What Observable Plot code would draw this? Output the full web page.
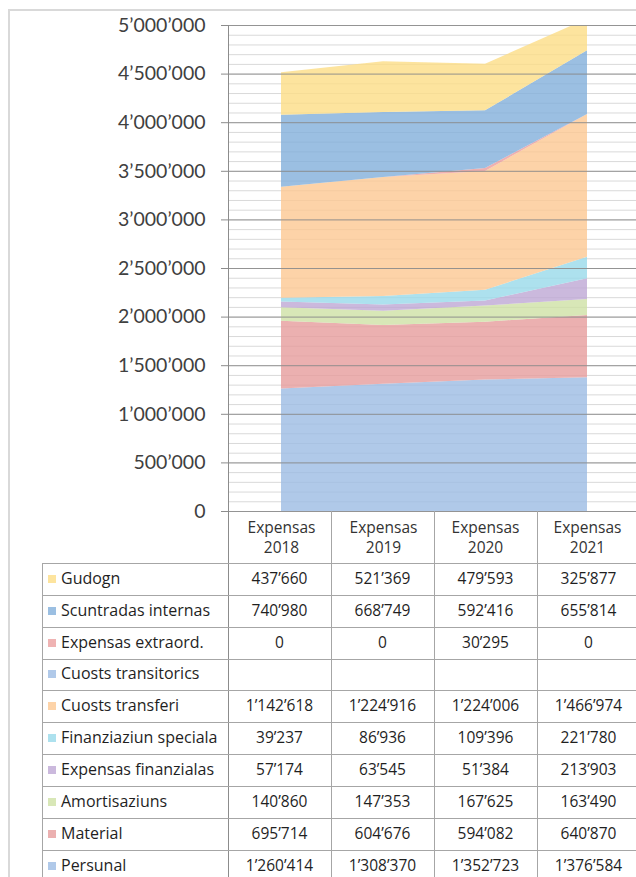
<!DOCTYPE html>
<html>
<head>
<meta charset="utf-8">
<script src="https://cdn.jsdelivr.net/npm/d3@7"></script>
<script src="https://cdn.jsdelivr.net/npm/@observablehq/plot@0.6"></script>
<style>
  html, body { margin: 0; padding: 0; background: #fff; overflow: hidden; }
  #wrap { position: relative; width: 636px; height: 877px; overflow: hidden; font-family: "Open Sans", sans-serif; }
  #frame { position: absolute; left: 8px; top: 9px; width: 700px; height: 900px;
           border-left: 2px solid #d9d9d9; border-top: 2px solid #d9d9d9; }
  #chart { position: absolute; left: 0; top: 0; }
  .hl { position: absolute; height: 0; border-top: 1px solid #a6a6a6; }
  .vl { position: absolute; width: 0; border-left: 1px solid #a6a6a6; }
  .cell { position: absolute; font-size: 15.5px; color: #1f1f1f; white-space: nowrap; line-height: 17px; }
  .lab { font-size: 16px; }
  .sw { position: absolute; width: 8px; height: 8px; }
</style>
</head>
<body>
<div id="wrap">
  <div id="frame"></div>
  <div id="chart"></div>
  <div id="table"></div>
</div>
<script>
// ---- data ----
const categories = ["Expensas 2018", "Expensas 2019", "Expensas 2020", "Expensas 2021"];
// table order (top to bottom); stacking is the reverse (Persunal at the bottom)
const seriesNames = ["Gudogn", "Scuntradas internas", "Expensas extraord.", "Cuosts transitorics",
  "Cuosts transferi", "Finanziaziun speciala", "Expensas finanzialas", "Amortisaziuns", "Material", "Persunal"];
const gudogn               = [437660, 521369, 479593, 325877];
const scuntradasInternas   = [740980, 668749, 592416, 655814];
const expensasExtraord     = [0, 0, 30295, 0];
const cuostsTransitorics   = [null, null, null, null];
const cuostsTransferi      = [1142618, 1224916, 1224006, 1466974];
const finanziaziunSpeciala = [39237, 86936, 109396, 221780];
const expensasFinanzialas  = [57174, 63545, 51384, 213903];
const amortisaziuns        = [140860, 147353, 167625, 163490];
const material             = [695714, 604676, 594082, 640870];
const persunal             = [1260414, 1308370, 1352723, 1376584];
const seriesValues = [gudogn, scuntradasInternas, expensasExtraord, cuostsTransitorics, cuostsTransferi,
  finanziaziunSpeciala, expensasFinanzialas, amortisaziuns, material, persunal];
// area fill colours (drawn at 0.8 opacity) and legend swatch colours
const areaColors = ["#fcdd86", "#82afdb", "#eb9c9c", "#9cbce4", "#fcc892", "#98daea", "#bea8d4", "#cee1a5", "#e69c9c", "#9cbce4"];
const swatchColors = ["#fde49e", "#9bbfe2", "#efb3b3", "#b0c9e9", "#fdd3a8", "#ade1ee", "#cbb9dd", "#d8e7b7", "#ebb0b0", "#b0c9e9"];
const majorTicks = d3.range(0, 5000001, 500000);
const minorTicks = d3.range(0, 5000001, 100000);

// ---- build table for the stack (bottom first) ----
const stackOrder = seriesNames.slice().reverse();
const rows = [];
stackOrder.forEach(name => {
  const vals = seriesValues[seriesNames.indexOf(name)];
  categories.forEach((c, i) => {
    if (vals[i] != null) rows.push({series: name, cat: c, value: vals[i]});
  });
});

const fmt = d3.formatLocale({decimal: ".", thousands: "\u2019", grouping: [3], currency: ["", ""]}).format(",d");

const chart = Plot.plot({
  width: 636,
  height: 563,
  marginLeft: 228,
  marginRight: 0,
  marginTop: 25,
  marginBottom: 52,
  style: {fontFamily: "Lato, sans-serif", background: "transparent", overflow: "visible"},
  x: {type: "point", domain: categories, range: [228, 639], padding: 0.5},
  y: {domain: [0, 5000000]},
  color: {domain: seriesNames, range: areaColors},
  marks: [
    Plot.gridY(minorTicks, {stroke: "#d9d9d9", strokeOpacity: 1}),
    Plot.areaY(rows, {x: "cat", y: "value", z: "series", fill: "series", fillOpacity: 0.8, clip: true}),
    Plot.gridY(majorTicks, {stroke: "#8c8c8c", strokeOpacity: 0.9}),
    Plot.axisY(majorTicks, {tickSize: 7, tickPadding: 16, tickFormat: fmt, fontSize: 19.5,
      stroke: "#8c8c8c", fill: "#404040", label: null}),
    Plot.axisX({tickSize: 0, tickPadding: 7, fontSize: 15.5, lineHeight: 1.3, fill: "#333",
      fontFamily: "Open Sans, sans-serif",
      tickFormat: d => d.replace(" ", "\n"), label: null})
  ]
});
document.getElementById("chart").appendChild(chart);

// ---- data table below the chart ----
const T = document.getElementById("table");
function add(cls, css, text) {
  const d = document.createElement("div");
  d.className = cls;
  Object.assign(d.style, css);
  if (text != null) d.textContent = text;
  T.appendChild(d);
  return d;
}
const colX = [228, 331, 434, 537, 640];
const top0 = 563, rowH = 31.85, left0 = 42;
// axis line / first separator
add("vl", {left: "228px", top: "25px", height: (877 - 25) + "px", borderLeftColor: "#8c8c8c"});
// header separators
colX.slice(1).forEach(x => add("vl", {left: x + "px", top: "511px", height: "366px"}));
add("vl", {left: left0 + "px", top: top0 + "px", height: "320px"});
for (let i = 0; i <= seriesNames.length; i++) {
  add("hl", {left: left0 + "px", top: (top0 + i * rowH) + "px", width: (640 - left0) + "px"});
}
seriesNames.forEach((name, r) => {
  const cy = top0 + r * rowH + rowH / 2;
  add("sw", {left: "48px", top: (cy - 4) + "px", background: swatchColors[r]});
  add("cell lab", {left: "61px", top: (cy - 9) + "px"}, name);
  seriesValues[r].forEach((v, i) => {
    const cx = (colX[i] + colX[i + 1]) / 2;
    add("cell", {left: (cx - 50) + "px", width: "100px", textAlign: "center", top: (cy - 9) + "px"},
      v == null ? "" : fmt(v));
  });
});
</script>
</body>
</html>
